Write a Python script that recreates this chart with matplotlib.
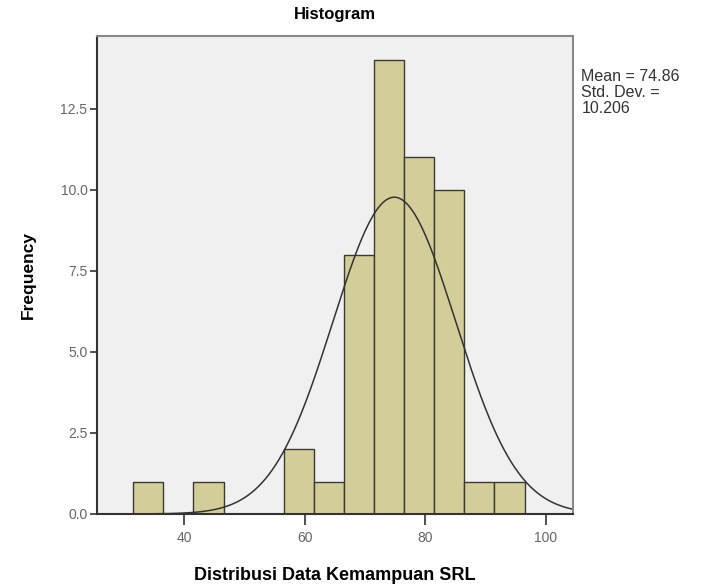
import numpy as np
import matplotlib.pyplot as plt

plt.rcParams["font.family"] = ["Liberation Sans", "DejaVu Sans"]

# ---------- data ----------
bin_edges = np.arange(31.5, 97.0, 5.0)          # 13 bins of width 5
counts = [1, 0, 1, 0, 0, 2, 1, 8, 14, 11, 10, 1, 1]
mean = 74.86
std = 10.206
n_total = sum(counts)

xticks = [40, 60, 80, 100]
yticks = [0.0, 2.5, 5.0, 7.5, 10.0, 12.5]

# ---------- plot ----------
fig = plt.figure(figsize=(7.25, 5.88), dpi=100)
ax = fig.add_axes([0.134, 0.126, 0.656, 0.813])
ax.set_facecolor("#f0f0f0")

ax.hist(bin_edges[:-1], bins=bin_edges, weights=counts,
        color="#d3ce99", edgecolor="#3a3a30", linewidth=1.0)

# normal curve scaled to histogram
xs = np.linspace(25.5, 104.5, 400)
bw = bin_edges[1] - bin_edges[0]
pdf = np.exp(-0.5 * ((xs - mean) / std) ** 2) / (std * np.sqrt(2 * np.pi))
ax.plot(xs, n_total * bw * pdf, color="#333333", linewidth=1.1)

ax.set_xlim(25.5, 104.5)
ax.set_ylim(0, 14.75)
ax.set_xticks(xticks)
ax.set_yticks(yticks)
ax.set_yticklabels([f"{v:.1f}" for v in yticks])

ax.tick_params(axis="x", direction="out", length=8, width=1.2,
               colors="#333333", labelcolor="#666666", labelsize=10, pad=4)
ax.tick_params(axis="y", direction="out", length=5, width=1.2,
               colors="#333333", labelcolor="#666666", labelsize=10, pad=2)

for side in ("left", "bottom"):
    ax.spines[side].set_color("#333333")
    ax.spines[side].set_linewidth(1.5)
for side in ("top", "right"):
    ax.spines[side].set_color("#888888")
    ax.spines[side].set_linewidth(1.5)

ax.set_title("Histogram", fontsize=12, fontweight="bold", pad=12)
ax.set_xlabel("Distribusi Data Kemampuan SRL", fontsize=13, fontweight="bold", labelpad=16)
ax.set_ylabel("Frequency", fontsize=12.5, fontweight="bold", labelpad=18)

fig.text(0.802, 0.882, f"Mean = {mean:.2f}\nStd. Dev. =\n{std:.3f}",
         fontsize=11.5, color="#333333", va="top", ha="left", linespacing=1.05)

fig.savefig("out.png", dpi=100)
